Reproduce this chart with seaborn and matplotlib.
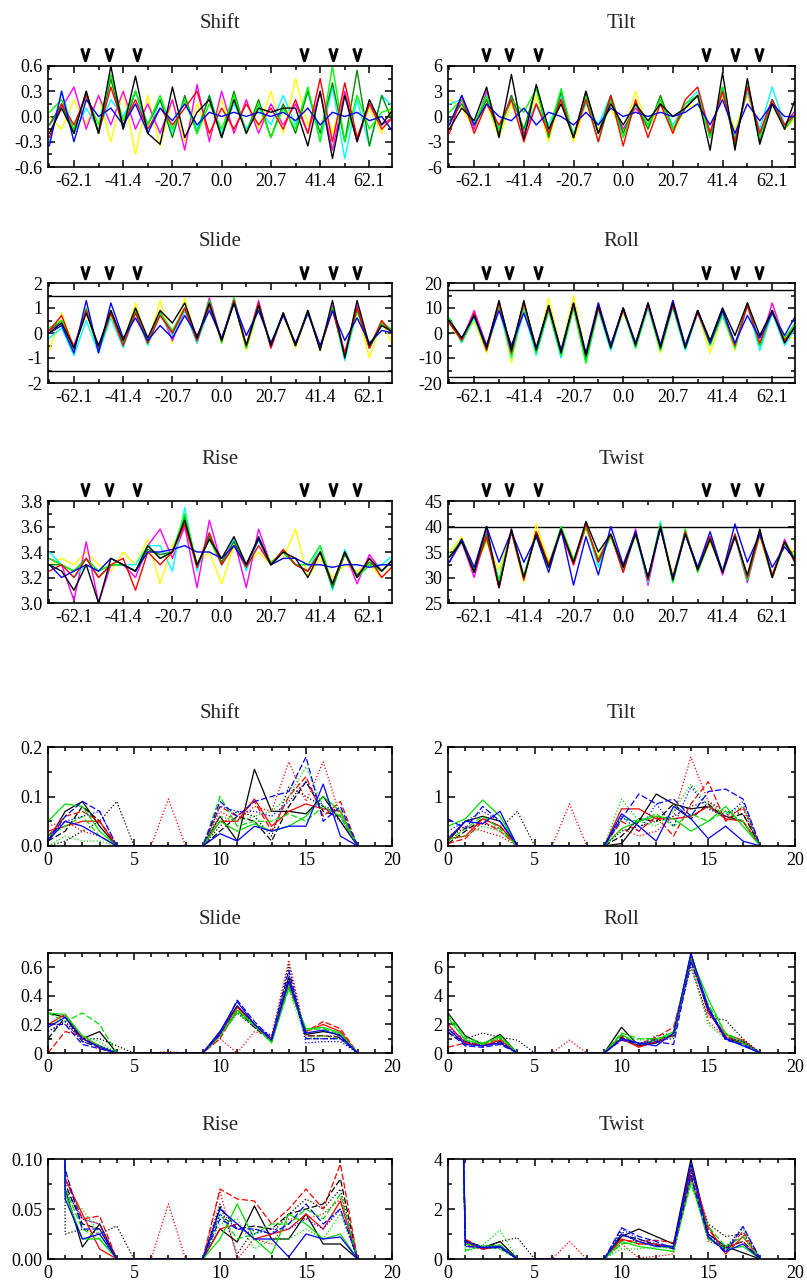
import numpy as np
import pandas as pd
import matplotlib
matplotlib.use("Agg")
import matplotlib.pyplot as plt
import matplotlib.transforms as mtransforms
from matplotlib.ticker import MultipleLocator, FixedLocator, FuncFormatter
import seaborn as sns

# positions along the helix (half-turn steps) and frequency index of the spectra
half_turn = np.arange(-14, 15)
helix_pos = half_turn * 5.175
freq = np.arange(19)

helix_ticks = [-62.1, -41.4, -20.7, 0.0, 20.7, 41.4, 62.1]
arrow_pos = [-57.3, -47.5, -35.6, 34.4, 46.6, 56.8]

# ---------------- helical parameters along the sequence ----------------
shift_black = [-0.2, 0.1, -0.2, 0.3, -0.2, 0.6, -0.15, 0.48, -0.2, -0.33, 0.35, -0.25, 0.05, 0.2, -0.25, 0.2, -0.2, 0.1, 0.05, 0.1, 0.1, -0.35, 0.3, -0.5, 0.25, -0.3, 0.2, -0.1, 0.1]
shift_red = [-0.25, 0.15, -0.1, 0.25, -0.2, 0.35, -0.1, 0.2, -0.15, 0.1, -0.1, 0.1, 0.3, -0.2, 0.1, -0.15, 0.15, -0.1, 0.1, -0.15, 0.2, -0.2, 0.45, -0.3, 0.4, -0.25, 0.15, -0.15, 0.0]
shift_lime = [0.05, 0.2, -0.15, 0.25, -0.1, 0.5, -0.05, 0.3, -0.1, 0.25, -0.15, 0.2, -0.2, 0.15, -0.15, 0.25, -0.2, 0.15, -0.25, 0.1, -0.15, 0.35, -0.3, 0.6, -0.3, 0.25, -0.15, 0.05, 0.1]
shift_blue = [-0.35, 0.3, -0.3, 0.2, 0.0, 0.1, -0.1, 0.15, -0.2, 0.1, -0.05, 0.15, -0.1, 0.05, 0.0, 0.05, 0.0, 0.05, 0.0, 0.05, -0.05, 0.1, -0.1, 0.05, 0.0, 0.05, -0.05, 0.0, -0.2]
shift_cyan = [-0.3, 0.3, -0.2, 0.1, -0.15, 0.2, 0.0, 0.3, -0.2, 0.2, -0.2, 0.2, -0.15, 0.25, -0.2, 0.15, -0.15, 0.1, -0.1, 0.25, -0.1, 0.3, -0.3, 0.35, -0.5, 0.2, -0.35, 0.25, 0.1]
shift_magenta = [-0.1, 0.1, 0.35, -0.15, 0.25, -0.1, 0.3, -0.15, 0.15, -0.2, 0.2, -0.4, 0.38, -0.3, 0.3, -0.2, 0.2, -0.2, 0.15, -0.1, 0.15, -0.2, 0.3, -0.4, 0.3, -0.3, 0.15, -0.1, 0.0]
shift_yellow = [0.0, -0.15, 0.2, -0.1, 0.25, -0.3, 0.3, -0.45, 0.25, -0.35, 0.2, -0.3, 0.15, -0.25, 0.2, -0.2, 0.2, -0.15, 0.3, -0.2, 0.45, -0.1, 0.25, -0.2, 0.3, -0.25, 0.1, -0.2, 0.2]
shift_green4 = [-0.1, 0.15, -0.2, 0.3, -0.2, 0.45, -0.15, 0.3, -0.1, 0.2, -0.25, 0.25, -0.2, 0.25, -0.25, 0.3, -0.2, 0.2, -0.25, 0.15, -0.2, 0.3, -0.2, 0.4, -0.3, 0.55, -0.35, 0.25, -0.1]

tilt_black = [-1.5, 1, -0.5, 3.5, -2.5, 5, -2.7, 3.8, -1.5, 1.5, -2.5, 3, -2, 1.5, -1, 1.5, -0.5, 1.5, 0, 1, 2.5, -4, 5.2, -4, 4.5, -3.3, 1.5, -1.5, 2.7]
tilt_red = [-2, 2.5, -2, 1.5, -1, 2, -3, 1.5, -2, 2, -2.5, 2, -3, 2.5, -3.5, 2, -2.5, 1.5, -2, 2, 3.5, -2, 3, -3, 3.5, -2, 2, -1, 0.5]
tilt_lime = [0.5, 2, -1, 2.5, -1.5, 2, 0.5, 3.3, -2, 3.3, -2.5, 2.5, -3, 2, -2.5, 1.5, -1, 2, -1.5, 1.5, 2.5, -2.5, 3.5, -3, 3.8, -2.5, 2, -1.5, 0.5]
tilt_blue = [-1, 2.5, -1, 1.5, 0, -0.5, 1, -1, 0.5, 0, -1, 0.5, -1, 1, 0, 0.5, 0, 0.5, 0, 0.5, 1.5, -1, 2, -2, 1.5, -0.5, 1.5, 0, 0]
tilt_cyan = [1.5, 2, -1, 2.5, -1.5, 2, -1.5, 1.5, -1, 2.5, -2, 1.5, -1, 2.5, -2.5, 1.5, -1, 2, -1, 1.5, 3, -2.5, 3.5, -2.5, 3, -1.5, 3.5, -1, 0.5]
tilt_magenta = [-1, 2, -1.5, 3, -1.5, 2.5, -2, 1.5, -2, 2.5, -2.5, 3, -2, 2, -1.5, 1, -1, 2, -1.5, 1, 2.5, -2, 3, -2.5, 3, -2, 2, -1, 1]
tilt_yellow = [2, 1, -1.5, 1.5, -2.5, 1.5, -2, 2.5, -3, 2.5, -3, 1.5, -1.5, 1, -2, 3, -1.5, 1.5, -2, 1, 1.5, -2, 2.5, -1.5, 2.5, -2, 2, -1.5, 0]
tilt_green4 = [-0.5, 1.5, -1, 2, -2, 2.5, -1.5, 3.5, -2.5, 3, -2.5, 2.5, -2, 2.5, -2, 1.5, -1.5, 2.5, -1.5, 1, 2.5, -2.5, 3.5, -3.5, 4, -3, 2, -1.5, 0.5]

slide_black = [0.0, 0.4, -0.6, 0.8, -0.5, 0.9, -0.3, 1.0, -0.2, 0.9, 0.4, 1.2, -0.2, 1.2, -0.3, 1.2, -0.5, 1.1, -0.5, 0.8, -0.5, 0.9, -0.7, 1.3, -1.0, 1.3, -0.5, 0.3, 0.0]
slide_red = [0.1, 0.7, -0.6, 0.9, -0.6, 0.8, -0.5, 0.8, -0.4, 0.7, 0.0, 1.0, -0.3, 1.1, -0.3, 1.3, -0.5, 1.2, -0.6, 0.8, -0.5, 0.8, -0.6, 0.9, -0.8, 1.0, -0.6, 0.5, -0.1]
slide_lime = [0.2, 0.5, -0.7, 1.0, -0.7, 0.9, -0.4, 0.9, -0.4, 0.8, 0.1, 1.0, -0.3, 1.3, -0.4, 1.4, -0.6, 1.1, -0.5, 0.8, -0.5, 0.9, -0.6, 1.0, -0.9, 0.9, -0.5, 0.4, 0.1]
slide_blue = [0.0, 0.3, -0.8, 1.3, -0.8, 1.2, -0.2, 0.6, -0.3, 0.3, -0.2, 0.7, -0.1, 0.9, -0.2, 1.2, -0.1, 0.9, -0.4, 0.7, -0.4, 0.8, -0.5, 0.9, -0.3, 0.6, -0.4, 0.1, 0.0]
slide_cyan = [-0.2, 0.2, -0.9, 0.5, -0.8, 0.6, -0.6, 0.8, -0.5, 0.8, -0.1, 0.9, -0.4, 1.0, -0.3, 1.2, -0.5, 1.0, -0.4, 0.8, -0.5, 0.8, -0.6, 1.0, -1.1, 0.9, -0.6, 0.3, 0.1]
slide_magenta = [0.1, 0.4, -0.5, 0.9, -0.6, 0.9, -0.5, 0.9, -0.4, 0.9, -0.3, 0.9, -0.4, 1.4, -0.3, 1.4, -0.5, 1.3, -0.6, 0.8, -0.5, 0.9, -0.6, 1.1, -0.8, 1.1, -0.6, 0.4, 0.0]
slide_yellow = [-0.7, 0.8, -0.6, 0.8, -0.6, 0.7, -0.5, 1.2, -0.5, 1.3, -0.4, 1.4, -0.4, 1.4, -0.4, 1.3, -0.7, 1.0, -0.4, 0.7, -0.6, 0.9, -0.7, 1.0, -1.0, 0.9, -1.0, 0.5, -0.6]
slide_green4 = [0.1, 0.5, -0.6, 0.9, -0.7, 0.8, -0.4, 0.9, -0.4, 0.8, 0.0, 1.0, -0.3, 1.2, -0.3, 1.3, -0.6, 1.2, -0.5, 0.8, -0.5, 0.9, -0.6, 1.0, -0.9, 1.0, -0.6, 0.4, 0.0]

roll_black = [5, -2, 7, -6, 13, -7, 13, -7, 11, -8, 12, -9, 11, -6, 10, -5, 12, -6, 12, -6, 9, -3, 10, -1, 12, -1, 9, -4, 4]
roll_red = [4, -3, 8, -7, 12, -8, 12, -6, 10, -7, 11, -9, 10, -5, 9, -4, 11, -5, 11, -5, 8, -4, 9, -5, 11, -4, 9, -3, 3]
roll_lime = [6, -3, 7, -7, 11, -9, 11, -8, 9, -9, 10, -12, 10, -6, 10, -6, 11, -7, 11, -6, 9, -5, 8, -6, 12, -5, 9, -2, 5]
roll_blue = [5, -2, 7, -5, 9, -5, 8, -6, 11, -7, 12, -8, 12, -5, 10, -4, 12, -5, 13, -5, 9, -4, 9, -4, 7, -2, 8, -1, 8]
roll_cyan = [6, -4, 6, -7, 10, -10, 9, -9, 9, -10, 10, -12, 9, -7, 9, -6, 10, -7, 10, -7, 8, -5, 7, -6, 11, -7, 8, -5, 3]
roll_magenta = [5, -3, 9, -5, 12, -6, 11, -6, 10, -7, 11, -9, 12, -5, 10, -5, 12, -5, 13, -6, 9, -4, 10, -6, 11, -5, 12, -3, 2]
roll_yellow = [4, -4, 5, -8, 12, -12, 11, -8, 14, -7, 15, -9, 9, -5, 8, -4, 11, -8, 11, -5, 8, -8, 7, -7, 12, -5, 8, -2, -2]
roll_green4 = [5, -3, 7, -6, 12, -7, 12, -6, 10, -8, 11, -11, 11, -5, 10, -5, 11, -6, 11, -6, 9, -4, 9, -5, 12, -5, 9, -3, 4]

rise_black = [3.3, 3.25, 3.1, 3.3, 3.0, 3.35, 3.3, 3.25, 3.45, 3.35, 3.4, 3.65, 3.3, 3.5, 3.35, 3.52, 3.3, 3.52, 3.3, 3.4, 3.35, 3.2, 3.4, 3.15, 3.4, 3.2, 3.35, 3.25, 3.35]
rise_red = [3.25, 3.3, 3.2, 3.35, 3.2, 3.3, 3.35, 3.1, 3.4, 3.3, 3.4, 3.62, 3.28, 3.55, 3.3, 3.45, 3.28, 3.45, 3.3, 3.42, 3.3, 3.25, 3.4, 3.15, 3.4, 3.2, 3.35, 3.2, 3.3]
rise_lime = [3.35, 3.3, 3.25, 3.35, 3.25, 3.3, 3.3, 3.25, 3.45, 3.35, 3.4, 3.7, 3.3, 3.5, 3.3, 3.45, 3.3, 3.5, 3.32, 3.4, 3.3, 3.3, 3.45, 3.15, 3.4, 3.2, 3.3, 3.25, 3.35]
rise_blue = [3.3, 3.2, 3.25, 3.3, 3.25, 3.35, 3.3, 3.25, 3.4, 3.4, 3.42, 3.45, 3.4, 3.4, 3.35, 3.45, 3.3, 3.5, 3.3, 3.35, 3.35, 3.3, 3.3, 3.28, 3.3, 3.3, 3.28, 3.3, 3.3]
rise_cyan = [3.4, 3.3, 3.2, 3.3, 3.25, 3.3, 3.3, 3.3, 3.45, 3.45, 3.25, 3.75, 3.25, 3.55, 3.3, 3.5, 3.25, 3.5, 3.3, 3.4, 3.3, 3.25, 3.45, 3.1, 3.42, 3.2, 3.3, 3.3, 3.38]
rise_magenta = [3.35, 3.3, 3.02, 3.48, 3.0, 3.3, 3.3, 3.2, 3.45, 3.58, 3.35, 3.6, 3.12, 3.65, 3.3, 3.5, 3.12, 3.58, 3.3, 3.4, 3.3, 3.25, 3.4, 3.15, 3.4, 3.15, 3.38, 3.25, 3.35]
rise_yellow = [3.3, 3.35, 3.3, 3.4, 3.3, 3.25, 3.4, 3.3, 3.5, 3.15, 3.45, 3.6, 3.3, 3.4, 3.15, 3.45, 3.28, 3.4, 3.3, 3.35, 3.58, 3.2, 3.35, 3.2, 3.3, 3.25, 3.3, 3.2, 3.3]
rise_green4 = [3.3, 3.3, 3.25, 3.35, 3.2, 3.3, 3.3, 3.25, 3.42, 3.38, 3.4, 3.68, 3.28, 3.52, 3.32, 3.48, 3.3, 3.5, 3.3, 3.4, 3.3, 3.25, 3.4, 3.12, 3.38, 3.22, 3.32, 3.25, 3.35]

twist_black = [34, 37, 31, 40, 28, 39.5, 30, 38.5, 32, 39.5, 33, 41, 35, 38.5, 32, 38.5, 30, 40, 29.5, 38.5, 31.5, 37.5, 31, 38, 30.5, 39.5, 30, 37, 32.5]
twist_red = [33, 37.5, 31, 38, 28, 39, 29.5, 39, 32.5, 39, 32.5, 40.5, 33, 38.5, 31, 39, 29.5, 40, 30, 39, 31.5, 38, 31, 38.5, 30, 38.5, 30.5, 37, 32]
twist_lime = [34, 37.5, 31.5, 37.5, 29.5, 39, 30, 38.5, 32, 40, 33.5, 40, 33, 38, 31.5, 39, 30, 40.5, 29, 39.5, 31, 37.5, 31, 38.5, 29.5, 38.5, 30, 36.5, 33]
twist_blue = [33, 37.5, 32, 40, 33, 39, 33, 38, 31, 39.5, 28.5, 38, 30.5, 40, 32.5, 39, 30, 39.5, 30, 38.5, 32, 39, 31, 40.5, 33, 38.5, 32, 36, 33]
twist_cyan = [34, 37, 31, 38, 29.5, 39, 30.5, 38.5, 32, 39.5, 33, 40.5, 32, 38.5, 31, 38.5, 29, 41, 29, 38.5, 31.5, 37.5, 31.5, 38, 29.5, 38.5, 30.5, 36.5, 33.5]
twist_magenta = [33, 37, 30, 39, 28, 39.5, 30, 39, 32, 39, 32.5, 40, 33, 38.5, 31, 39.5, 28.5, 40, 29.5, 38.5, 32, 38, 30.5, 38, 29, 38.5, 30, 37.5, 32]
twist_yellow = [35, 38, 32, 37, 31.5, 39, 29, 40.5, 33, 39, 33.5, 39.5, 34, 38, 32, 38, 30, 40, 30.5, 38.5, 32, 37, 31.5, 38, 30, 38, 30, 37, 34]
twist_green4 = [34, 37.5, 31, 38.5, 29, 39, 30, 39, 32.5, 39.5, 33, 40, 33.5, 38.5, 31.5, 39, 29.5, 40, 29.5, 39, 31.5, 38, 31, 38.5, 29.5, 39, 30, 37, 33]

# ---------------- power spectra (frequency index 0..18) ----------------
shift_p_black = [0.01, 0.07, 0.09, 0.04, 0.0, 0, 0, 0, 0, 0.0, 0.06, 0.01, 0.155, 0.07, 0.07, 0.065, 0.1, 0.05, 0.0]
shift_p_red = [0.03, 0.04, 0.05, 0.05, 0.0, 0, 0, 0, 0, 0.0, 0.05, 0.05, 0.095, 0.04, 0.07, 0.085, 0.075, 0.07, 0.0]
shift_p_green = [0.05, 0.085, 0.08, 0.03, 0.0, 0, 0, 0, 0, 0.0, 0.05, 0.03, 0.045, 0.03, 0.04, 0.06, 0.1, 0.07, 0.0]
shift_p_blue = [0.01, 0.05, 0.04, 0.02, 0.0, 0, 0, 0, 0, 0.0, 0.025, 0.01, 0.04, 0.03, 0.04, 0.04, 0.125, 0.02, 0.0]
shift_p_black_dash = [0.01, 0.03, 0.08, 0.05, 0.0, 0, 0, 0, 0, 0.0, 0.03, 0.06, 0.05, 0.01, 0.08, 0.13, 0.07, 0.06, 0.0]
shift_p_red_dash = [0.02, 0.06, 0.07, 0.05, 0.0, 0, 0, 0, 0, 0.0, 0.08, 0.06, 0.09, 0.03, 0.1, 0.14, 0.06, 0.09, 0.0]
shift_p_green_dash = [0.02, 0.04, 0.06, 0.02, 0.0, 0, 0, 0, 0, 0.0, 0.1, 0.04, 0.05, 0.05, 0.065, 0.05, 0.08, 0.06, 0.0]
shift_p_blue_dash = [0.01, 0.06, 0.09, 0.07, 0.0, 0, 0, 0, 0, 0.0, 0.09, 0.06, 0.09, 0.1, 0.11, 0.18, 0.05, 0.08, 0.0]
shift_p_black_dot = [0.0, 0.01, 0.03, 0.05, 0.09, 0.0, 0, 0, 0, 0.0, 0.04, 0.07, 0.06, 0.02, 0.12, 0.1, 0.08, 0.07, 0.0]
shift_p_red_dot = [0.04, 0.05, 0.03, 0.02, 0.0, 0, 0.0, 0.095, 0.0, 0.0, 0.07, 0.05, 0.08, 0.07, 0.17, 0.09, 0.17, 0.06, 0.0]
shift_p_green_dot = [0.0, 0.02, 0.01, 0.01, 0.0, 0, 0, 0, 0, 0.0, 0.06, 0.05, 0.06, 0.07, 0.1, 0.16, 0.08, 0.06, 0.0]
shift_p_blue_dot = [0.02, 0.05, 0.06, 0.07, 0.0, 0, 0, 0, 0, 0.0, 0.08, 0.07, 0.07, 0.06, 0.09, 0.13, 0.08, 0.05, 0.0]

tilt_p_black = [0.1, 0.5, 0.6, 0.5, 0.0, 0, 0, 0, 0, 0.0, 0.05, 0.5, 1.05, 0.85, 0.75, 0.8, 0.6, 0.5, 0.0]
tilt_p_red = [0.15, 0.2, 0.55, 0.4, 0.0, 0, 0, 0, 0, 0.0, 0.75, 0.75, 0.55, 0.55, 0.6, 0.8, 0.55, 0.5, 0.0]
tilt_p_green = [0.4, 0.55, 0.93, 0.6, 0.0, 0, 0, 0, 0, 0.0, 0.35, 0.5, 0.6, 0.55, 0.3, 0.5, 0.8, 0.4, 0.0]
tilt_p_blue = [0.15, 0.5, 0.45, 0.7, 0.0, 0, 0, 0, 0, 0.0, 0.65, 0.4, 0.1, 0.8, 0.55, 0.15, 0.4, 0.1, 0.0]
tilt_p_black_dash = [0.05, 0.3, 0.55, 0.4, 0.0, 0, 0, 0, 0, 0.0, 0.2, 0.55, 0.5, 0.85, 0.55, 0.85, 0.55, 0.65, 0.0]
tilt_p_red_dash = [0.05, 0.15, 0.5, 0.3, 0.0, 0, 0, 0, 0, 0.0, 0.5, 0.3, 0.6, 0.2, 0.85, 1.3, 0.5, 0.8, 0.0]
tilt_p_green_dash = [0.1, 0.35, 0.6, 0.35, 0.0, 0, 0, 0, 0, 0.0, 0.55, 0.5, 0.65, 0.4, 0.65, 0.5, 0.7, 0.5, 0.0]
tilt_p_blue_dash = [0.55, 0.35, 0.8, 0.5, 0.0, 0, 0, 0, 0, 0.0, 0.55, 1.05, 0.85, 0.95, 0.6, 1.1, 1.15, 0.95, 0.0]
tilt_p_black_dot = [0.2, 0.35, 0.45, 0.35, 0.7, 0.0, 0, 0, 0, 0.0, 0.3, 0.4, 0.5, 0.6, 0.8, 0.9, 0.7, 0.65, 0.0]
tilt_p_red_dot = [0.2, 0.4, 0.3, 0.2, 0.0, 0, 0.0, 0.85, 0.0, 0.0, 0.35, 0.2, 0.3, 0.6, 1.8, 0.9, 0.6, 0.75, 0.0]
tilt_p_green_dot = [0.15, 0.2, 0.4, 0.3, 0.0, 0, 0, 0, 0, 0.0, 0.95, 0.5, 0.4, 0.7, 1.25, 0.8, 0.65, 0.8, 0.0]
tilt_p_blue_dot = [0.3, 0.5, 0.7, 0.5, 0.0, 0, 0, 0, 0, 0.0, 0.6, 0.3, 0.85, 0.4, 1.2, 0.75, 0.6, 0.9, 0.0]

slide_p_black = [0.28, 0.25, 0.1, 0.15, 0.0, 0, 0, 0, 0, 0.0, 0.15, 0.33, 0.2, 0.08, 0.53, 0.13, 0.15, 0.13, 0.0]
slide_p_red = [0.2, 0.27, 0.1, 0.05, 0.0, 0, 0, 0, 0, 0.0, 0.14, 0.32, 0.2, 0.1, 0.5, 0.15, 0.2, 0.15, 0.0]
slide_p_green = [0.28, 0.27, 0.12, 0.05, 0.0, 0, 0, 0, 0, 0.0, 0.12, 0.3, 0.2, 0.07, 0.48, 0.17, 0.18, 0.14, 0.0]
slide_p_blue = [0.18, 0.25, 0.1, 0.04, 0.0, 0, 0, 0, 0, 0.0, 0.15, 0.36, 0.2, 0.09, 0.5, 0.14, 0.16, 0.12, 0.0]
slide_p_black_dash = [0.1, 0.25, 0.08, 0.04, 0.0, 0, 0, 0, 0, 0.0, 0.13, 0.3, 0.18, 0.08, 0.5, 0.12, 0.12, 0.11, 0.0]
slide_p_red_dash = [0.0, 0.15, 0.12, 0.03, 0.0, 0, 0, 0, 0, 0.0, 0.1, 0.3, 0.2, 0.08, 0.47, 0.15, 0.22, 0.17, 0.0]
slide_p_green_dash = [0.28, 0.22, 0.28, 0.2, 0.0, 0, 0, 0, 0, 0.0, 0.12, 0.28, 0.19, 0.08, 0.45, 0.16, 0.17, 0.13, 0.0]
slide_p_blue_dash = [0.2, 0.2, 0.06, 0.03, 0.0, 0, 0, 0, 0, 0.0, 0.13, 0.37, 0.22, 0.1, 0.58, 0.1, 0.1, 0.1, 0.0]
slide_p_black_dot = [0.15, 0.22, 0.1, 0.1, 0.05, 0.0, 0, 0, 0, 0.0, 0.12, 0.28, 0.18, 0.09, 0.62, 0.1, 0.1, 0.1, 0.0]
slide_p_red_dot = [0.2, 0.2, 0.1, 0.05, 0.0, 0, 0.0, 0.01, 0.0, 0.0, 0.1, 0.0, 0.15, 0.12, 0.65, 0.12, 0.12, 0.12, 0.0]
slide_p_green_dot = [0.2, 0.25, 0.12, 0.08, 0.0, 0, 0, 0, 0, 0.0, 0.12, 0.3, 0.2, 0.08, 0.45, 0.1, 0.12, 0.1, 0.0]
slide_p_blue_dot = [0.15, 0.22, 0.08, 0.05, 0.0, 0, 0, 0, 0, 0.0, 0.13, 0.33, 0.2, 0.12, 0.56, 0.07, 0.08, 0.08, 0.0]

roll_p_black = [2.8, 1.2, 0.6, 1.3, 0.0, 0, 0, 0, 0, 0.0, 1.8, 0.5, 0.7, 1.3, 7.0, 3.0, 1.0, 0.7, 0.0]
roll_p_red = [2.0, 0.7, 0.5, 0.9, 0.0, 0, 0, 0, 0, 0.0, 1.0, 0.4, 0.8, 1.2, 6.8, 2.8, 1.3, 0.9, 0.0]
roll_p_green = [2.5, 0.9, 0.6, 1.2, 0.0, 0, 0, 0, 0, 0.0, 1.3, 0.6, 0.9, 1.5, 6.7, 3.8, 1.3, 0.7, 0.0]
roll_p_blue = [1.7, 0.6, 0.5, 0.7, 0.0, 0, 0, 0, 0, 0.0, 1.0, 0.7, 0.5, 1.4, 6.9, 3.2, 1.0, 0.5, 0.0]
roll_p_black_dash = [1.4, 0.8, 0.5, 0.8, 0.0, 0, 0, 0, 0, 0.0, 1.1, 0.5, 1.0, 1.2, 6.6, 3.2, 1.1, 0.8, 0.0]
roll_p_red_dash = [0.4, 0.7, 0.6, 1.0, 0.0, 0, 0, 0, 0, 0.0, 1.2, 0.6, 1.1, 1.8, 6.5, 3.0, 1.2, 0.7, 0.0]
roll_p_green_dash = [2.7, 1.1, 0.7, 1.1, 0.0, 0, 0, 0, 0, 0.0, 1.4, 1.0, 1.0, 1.3, 6.6, 3.4, 1.4, 0.8, 0.0]
roll_p_blue_dash = [1.5, 0.5, 0.4, 0.6, 0.0, 0, 0, 0, 0, 0.0, 0.9, 0.6, 0.8, 0.6, 6.4, 3.1, 0.9, 0.6, 0.0]
roll_p_black_dot = [1.6, 1.0, 1.4, 1.1, 0.9, 0.0, 0, 0, 0, 0.0, 1.0, 0.6, 1.2, 1.4, 6.0, 2.5, 2.3, 1.0, 0.0]
roll_p_red_dot = [1.3, 0.8, 0.5, 0.7, 0.0, 0, 0.0, 0.9, 0.0, 0.0, 0.9, 0.5, 0.9, 1.2, 6.2, 2.2, 1.1, 0.7, 0.0]
roll_p_green_dot = [2.3, 1.0, 0.6, 1.0, 0.0, 0, 0, 0, 0, 0.0, 1.2, 0.9, 1.0, 1.1, 6.3, 2.0, 1.0, 0.6, 0.0]
roll_p_blue_dot = [1.8, 0.8, 0.5, 0.8, 0.0, 0, 0, 0, 0, 0.0, 1.0, 0.7, 0.9, 1.0, 6.5, 2.9, 1.1, 0.8, 0.0]

rise_p_black = [3.3, 0.07, 0.012, 0.035, 0.0, 0, 0, 0, 0, 0.0, 0.03, 0.017, 0.053, 0.02, 0.02, 0.045, 0.015, 0.015, 0.0]
rise_p_red = [3.3, 0.08, 0.045, 0.01, 0.0, 0, 0, 0, 0, 0.0, 0.03, 0.035, 0.02, 0.025, 0.03, 0.045, 0.03, 0.058, 0.0]
rise_p_green = [3.3, 0.065, 0.02, 0.02, 0.0, 0, 0, 0, 0, 0.0, 0.02, 0.055, 0.02, 0.005, 0.045, 0.035, 0.02, 0.025, 0.0]
rise_p_blue = [3.3, 0.06, 0.02, 0.025, 0.0, 0, 0, 0, 0, 0.0, 0.05, 0.035, 0.02, 0.02, 0.002, 0.025, 0.02, 0.022, 0.0]
rise_p_black_dash = [3.3, 0.075, 0.035, 0.03, 0.0, 0, 0, 0, 0, 0.0, 0.052, 0.03, 0.033, 0.03, 0.045, 0.05, 0.055, 0.08, 0.0]
rise_p_red_dash = [3.3, 0.08, 0.04, 0.043, 0.0, 0, 0, 0, 0, 0.0, 0.07, 0.06, 0.058, 0.035, 0.05, 0.07, 0.05, 0.095, 0.0]
rise_p_green_dash = [3.3, 0.07, 0.03, 0.02, 0.0, 0, 0, 0, 0, 0.0, 0.045, 0.02, 0.025, 0.035, 0.035, 0.05, 0.04, 0.065, 0.0]
rise_p_blue_dash = [3.3, 0.09, 0.03, 0.03, 0.0, 0, 0, 0, 0, 0.0, 0.04, 0.03, 0.03, 0.025, 0.035, 0.055, 0.035, 0.05, 0.0]
rise_p_black_dot = [3.3, 0.025, 0.03, 0.025, 0.033, 0.0, 0, 0, 0, 0.0, 0.055, 0.005, 0.03, 0.025, 0.045, 0.06, 0.05, 0.07, 0.0]
rise_p_red_dot = [3.3, 0.085, 0.04, 0.035, 0.0, 0, 0.0, 0.055, 0.0, 0.0, 0.068, 0.0, 0.02, 0.015, 0.04, 0.04, 0.045, 0.06, 0.0]
rise_p_green_dot = [3.3, 0.06, 0.05, 0.025, 0.0, 0, 0, 0, 0, 0.0, 0.035, 0.04, 0.01, 0.02, 0.02, 0.03, 0.02, 0.045, 0.0]
rise_p_blue_dot = [3.3, 0.07, 0.04, 0.035, 0.0, 0, 0, 0, 0, 0.0, 0.045, 0.03, 0.025, 0.03, 0.03, 0.04, 0.03, 0.05, 0.0]

twist_p_black = [34, 0.75, 0.45, 0.7, 0.0, 0, 0, 0, 0, 0.0, 0.9, 1.2, 0.9, 0.6, 4.0, 1.0, 0.5, 0.25, 0.0]
twist_p_red = [34, 0.65, 0.4, 0.5, 0.0, 0, 0, 0, 0, 0.0, 0.8, 0.6, 0.6, 0.4, 3.6, 1.3, 0.2, 0.9, 0.0]
twist_p_green = [34, 0.6, 0.5, 0.55, 0.0, 0, 0, 0, 0, 0.0, 0.7, 0.5, 0.4, 0.3, 3.2, 0.8, 0.4, 0.5, 0.0]
twist_p_blue = [34, 0.7, 0.45, 0.5, 0.0, 0, 0, 0, 0, 0.0, 1.0, 0.7, 0.5, 0.5, 3.8, 0.9, 0.3, 0.6, 0.0]
twist_p_black_dash = [34, 0.7, 0.5, 0.55, 0.0, 0, 0, 0, 0, 0.0, 0.95, 0.8, 0.55, 0.45, 3.4, 0.8, 0.45, 0.7, 0.0]
twist_p_red_dash = [34, 0.8, 0.4, 0.5, 0.0, 0, 0, 0, 0, 0.0, 0.75, 0.7, 0.75, 0.65, 3.3, 1.2, 0.3, 1.1, 0.0]
twist_p_green_dash = [34, 0.35, 0.5, 0.4, 0.0, 0, 0, 0, 0, 0.0, 0.6, 0.7, 0.5, 0.45, 3.0, 1.3, 0.5, 0.9, 0.0]
twist_p_blue_dash = [34, 0.5, 0.45, 0.45, 0.0, 0, 0, 0, 0, 0.0, 1.25, 0.9, 0.7, 0.4, 3.3, 0.9, 0.25, 1.3, 0.0]
twist_p_black_dot = [34, 0.6, 0.4, 0.7, 0.85, 0.0, 0, 0, 0, 0.0, 1.1, 0.6, 0.6, 0.5, 3.5, 1.4, 0.9, 1.0, 0.0]
twist_p_red_dot = [34, 0.55, 0.4, 0.5, 0.0, 0, 0.0, 0.7, 0.0, 0.0, 0.6, 0.05, 0.1, 0.2, 3.2, 0.7, 0.5, 0.7, 0.0]
twist_p_green_dot = [34, 0.3, 0.55, 1.15, 0.0, 0, 0, 0, 0, 0.0, 0.4, 0.4, 0.5, 0.4, 3.0, 0.9, 0.5, 1.2, 0.0]
twist_p_blue_dot = [34, 0.5, 0.5, 0.5, 0.0, 0, 0, 0, 0, 0.0, 1.2, 0.8, 0.6, 0.5, 3.6, 1.0, 0.4, 1.3, 0.0]

# ---------------- style ----------------
sns.set_theme(style="ticks")
plt.rcParams["font.family"] = ["Liberation Serif", "DejaVu Serif"]
plt.rcParams["axes.unicode_minus"] = False
plt.rcParams["axes.edgecolor"] = "black"
plt.rcParams["axes.linewidth"] = 1.2
plt.rcParams["xtick.color"] = "black"
plt.rcParams["ytick.color"] = "black"

helix_colors = {"yellow": "#ffff00", "magenta": "#ff00ff", "cyan": "#00ffff",
                "green4": "#008b00", "lime": "#00ff00", "red": "#ff0000",
                "blue": "#0000ff", "black": "#000000"}
spec_colors = {"black": "#000000", "red": "#ff0000", "green": "#00dd00", "blue": "#0000ff"}
spec_dashes = {"dot": (1, 1.6), "dash": (5, 2), "solid": ""}

helix_panels = [
    ("Shift", (-0.6, 0.6), 0.3, 0.15, "%.1f", [],
     [("yellow", shift_yellow), ("magenta", shift_magenta), ("cyan", shift_cyan), ("green4", shift_green4),
      ("lime", shift_lime), ("red", shift_red), ("blue", shift_blue), ("black", shift_black)]),
    ("Tilt", (-6, 6), 3, 1.5, "%g", [],
     [("yellow", tilt_yellow), ("magenta", tilt_magenta), ("cyan", tilt_cyan), ("green4", tilt_green4),
      ("lime", tilt_lime), ("red", tilt_red), ("blue", tilt_blue), ("black", tilt_black)]),
    ("Slide", (-2, 2), 1, 0.5, "%g", [-1.5, 1.5],
     [("yellow", slide_yellow), ("magenta", slide_magenta), ("cyan", slide_cyan), ("green4", slide_green4),
      ("lime", slide_lime), ("red", slide_red), ("blue", slide_blue), ("black", slide_black)]),
    ("Roll", (-20, 20), 10, 5, "%g", [-17.4, 17.4],
     [("yellow", roll_yellow), ("magenta", roll_magenta), ("cyan", roll_cyan), ("green4", roll_green4),
      ("lime", roll_lime), ("red", roll_red), ("blue", roll_blue), ("black", roll_black)]),
    ("Rise", (3.0, 3.8), 0.2, 0.1, "%.1f", [],
     [("yellow", rise_yellow), ("magenta", rise_magenta), ("cyan", rise_cyan), ("green4", rise_green4),
      ("lime", rise_lime), ("red", rise_red), ("blue", rise_blue), ("black", rise_black)]),
    ("Twist", (25, 45), 5, 2.5, "%g", [40],
     [("yellow", twist_yellow), ("magenta", twist_magenta), ("cyan", twist_cyan), ("green4", twist_green4),
      ("lime", twist_lime), ("red", twist_red), ("blue", twist_blue), ("black", twist_black)]),
]


def spec_set(prefix):
    g = globals()
    out = []
    for style, suffix in [("dot", "_dot"), ("dash", "_dash"), ("solid", "")]:
        for col in ["black", "red", "green", "blue"]:
            out.append((col, style, g[prefix + "_p_" + col + suffix]))
    return out


spec_panels = [
    ("Shift", (0, 0.2), 0.1, 0.05, "%.1f", spec_set("shift")),
    ("Tilt", (0, 2), 1, 0.5, "%g", spec_set("tilt")),
    ("Slide", (0, 0.7), 0.2, 0.1, "%g", spec_set("slide")),
    ("Roll", (0, 7), 2, 1, "%g", spec_set("roll")),
    ("Rise", (0, 0.1), 0.05, 0.025, "%.2f", spec_set("rise")),
    ("Twist", (0, 4), 2, 1, "%g", spec_set("twist")),
]

# ---------------- layout (pixel boxes of the reference) ----------------
W, H = 807, 1281
cols = [(48, 392), (448, 795)]
rows = [(66, 167), (283, 383), (501, 603), (747, 846), (953, 1053), (1159, 1259)]

fig = plt.figure(figsize=(W / 100, H / 100), dpi=100)


def make_ax(r, c):
    x0, x1 = cols[c]
    y0, y1 = rows[r]
    return fig.add_axes([x0 / W, 1 - y1 / H, (x1 - x0) / W, (y1 - y0) / H])


def fmt_func(fmt):
    return FuncFormatter(lambda v, p: fmt % (round(v, 6) + 0.0))


def style_ax(ax, ylim, major, minor, fmt):
    ax.set_ylim(*ylim)
    ax.yaxis.set_major_locator(MultipleLocator(major))
    ax.yaxis.set_minor_locator(MultipleLocator(minor))
    ax.yaxis.set_major_formatter(fmt_func(fmt))
    ax.tick_params(which="both", direction="in", top=True, right=True,
                   width=1.1, labelsize=13, pad=4)
    ax.tick_params(which="major", length=5)
    ax.tick_params(which="minor", length=2.8)
    ax.set_xlabel("")
    ax.set_ylabel("")
    for s in ax.spines.values():
        s.set_linewidth(1.2)


for i, (name, ylim, major, minor, fmt, hlines, series) in enumerate(helix_panels):
    ax = make_ax(i // 2, i % 2)
    for vals in series:
        assert len(vals[1]) == len(helix_pos), name
    df = pd.concat([pd.DataFrame({"pos": helix_pos, "value": vals, "set": key})
                    for key, vals in series], ignore_index=True)
    sns.lineplot(data=df, x="pos", y="value", hue="set", palette=helix_colors,
                 estimator=None, sort=False, legend=False, lw=1.0, ax=ax)
    for h in hlines:
        ax.axhline(h, color="black", lw=1.0, zorder=1)
    ax.set_xlim(-73.0, 71.6)
    ax.xaxis.set_major_locator(FixedLocator(helix_ticks))
    ax.xaxis.set_minor_locator(MultipleLocator(10.35))
    ax.xaxis.set_major_formatter(fmt_func("%.1f"))
    style_ax(ax, ylim, major, minor, fmt)
    ax.set_title(name, fontsize=15, pad=27)
    blend = mtransforms.blended_transform_factory(ax.transData, ax.transAxes)
    ax.plot(arrow_pos, [1.115] * len(arrow_pos), transform=blend, ls="none",
            marker=[(-0.6, 1.0), (0.0, -1.0), (0.6, 1.0)], ms=9, mew=2.2,
            mec="black", mfc="none", clip_on=False)

for i, (name, ylim, major, minor, fmt, series) in enumerate(spec_panels):
    ax = make_ax(3 + i // 2, i % 2)
    for col, style, vals in series:
        assert len(vals) == len(freq), name
    df = pd.concat([pd.DataFrame({"freq": freq, "power": vals, "color": col, "style": style})
                    for col, style, vals in series], ignore_index=True)
    sns.lineplot(data=df, x="freq", y="power", hue="color", style="style",
                 palette=spec_colors, dashes=spec_dashes, estimator=None, sort=False,
                 legend=False, lw=0.9, ax=ax)
    ax.set_xlim(0, 20)
    ax.xaxis.set_major_locator(FixedLocator([0, 5, 10, 15, 20]))
    ax.xaxis.set_minor_locator(MultipleLocator(1))
    ax.xaxis.set_major_formatter(fmt_func("%g"))
    style_ax(ax, ylim, major, minor, fmt)
    ax.set_title(name, fontsize=15, pad=21)

fig.savefig("out.png", dpi=100, facecolor="white")
